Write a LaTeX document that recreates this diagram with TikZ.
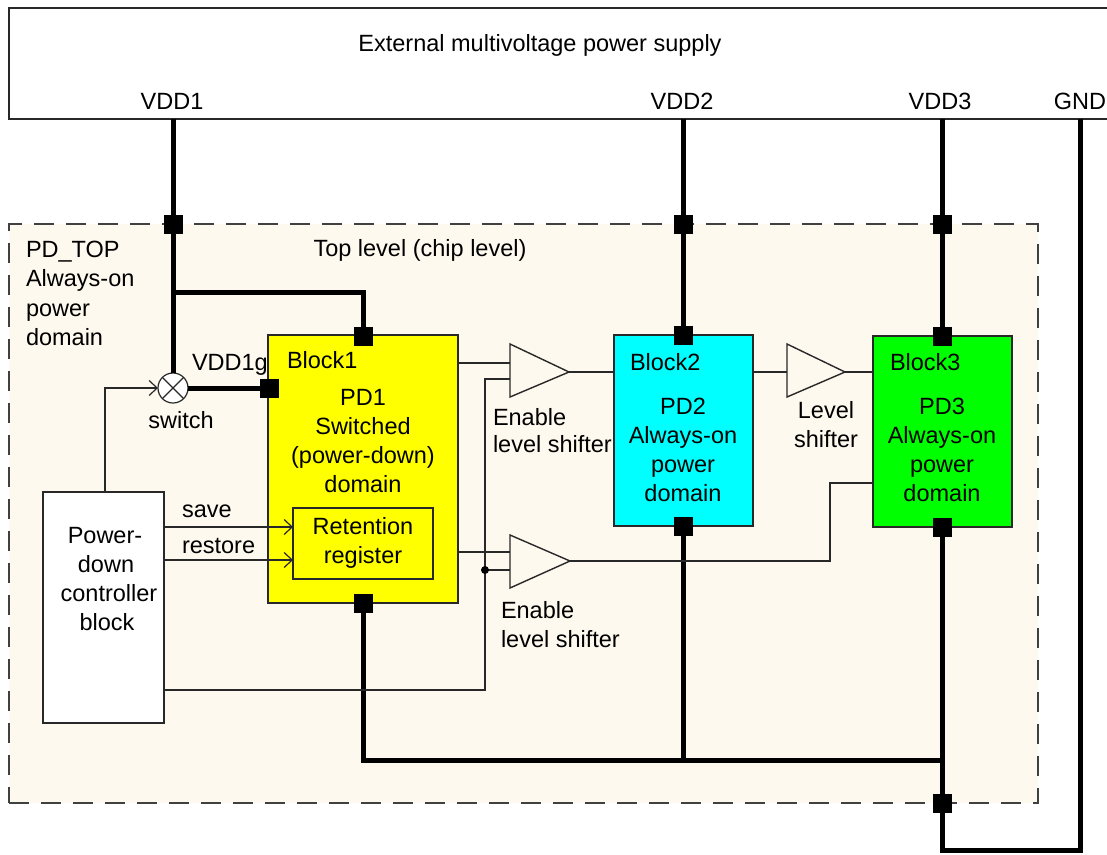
\documentclass[tikz,border=0pt]{standalone}
\usepackage{fontspec}
\setmainfont{Liberation Sans}
\usetikzlibrary{arrows.meta}
\definecolor{cream}{RGB}{254,249,238}
\definecolor{bord}{RGB}{40,40,40}
\definecolor{pdyellow}{RGB}{255,255,0}
\definecolor{pdcyan}{RGB}{0,255,255}
\definecolor{pdgreen}{RGB}{0,255,0}
\begin{document}
\begin{tikzpicture}[x=1pt,y=-1pt,
  every node/.style={inner sep=0pt, outer sep=0pt},
  txt/.style={anchor=base, font=\fontsize{23.5}{29}\selectfont, text=black},
  txtl/.style={txt, anchor=base west},
  blk/.style={draw=bord, line width=1.4pt, rectangle},
  pwr/.style={line width=5pt},
  sig/.style={line width=1.4pt, draw=bord},
  pin/.style={rectangle, fill=black, minimum size=19pt},
  tip/.style={-{Straight Barb[length=8pt,width=15pt,line width=1.2pt]}}
]
\useasboundingbox (0,0) rectangle (1107,854);
\fill[white] (0,0) rectangle (1107,854);

% top level dashed region
\node[draw=black!75, fill=cream, line width=2.5pt, dash pattern=on 20pt off 12pt,
      minimum width=1029pt, minimum height=579pt] (top) at (523.5,513.5) {};
% external supply box
\node[draw=bord, line width=1.4pt, minimum width=1130pt, minimum height=111pt,
      anchor=north west] (ext) at (9,8) {};

% blocks
\node[blk, fill=pdyellow, minimum width=190pt, minimum height=268pt] (b1) at (363,469) {};
\node[blk, fill=pdcyan, minimum width=139pt, minimum height=191pt] (b2) at (683.5,430.5) {};
\node[blk, fill=pdgreen, minimum width=139pt, minimum height=191pt] (b3) at (942.5,431.5) {};
\node[blk, fill=pdyellow, minimum width=140pt, minimum height=71pt] (reg) at (363,543.5) {};
\node[blk, fill=white, minimum width=121pt, minimum height=231pt] (ctrl) at (103.5,607.5) {};

% level shifters
\draw[sig, fill=cream] (510,344) coordinate (t1top) -- (569,372) coordinate (t1o) -- (510,397) coordinate (t1bot) -- cycle;
\draw[sig, fill=cream] (510,535) coordinate (t2top) -- (570,561) coordinate (t2o) -- (510,588) coordinate (t2bot) -- cycle;
\draw[sig, fill=cream] (787,344) coordinate (t3top) -- (845,372) coordinate (t3o) -- (787,397) coordinate (t3bot) -- cycle;

% switch
\node[circle, draw=bord, fill=white, line width=1.2pt, minimum size=30pt] (sw) at (173,388) {};
\draw[sig, line width=1.2pt] (sw.45) -- (sw.225) (sw.135) -- (sw.315);

% coordinates
\coordinate (br) at (173,292);
\coordinate (bus) at (942,760);
\coordinate (gnd) at (1080,119);
\coordinate (gndlow) at (942,850);
\coordinate (en1) at (485,379);
\coordinate (en2) at (485,570);
\coordinate (ctrlout) at (164,690);

% power lines
\draw[pwr] (sw.north |- ext.south) -- (sw.north);
\draw[pwr] (br) -| (363,335);
\draw[pwr] (sw.east) -- (b1.west |- sw);
\draw[pwr] (b2.north |- ext.south) -- (b2.north);
\draw[pwr] (942,119) -- (942,336);
\draw[pwr] (363,603) |- (bus);
\draw[pwr] (683,526) -- (683,760);
\draw[pwr] (942,527) -- (gndlow) -| (gnd);

% signal lines
\draw[sig] (458,363) -- (510,363);
\draw[sig] (ctrlout) -| (en1) -- (510,379);
\draw[sig] (en2) -- (510,570);
\draw[sig] (458,552) -- (510,552);
\draw[sig] (t1o) -- (b2.west |- t1o);
\draw[sig] (b2.east |- t3o) -- (787,372);
\draw[sig] (t3o) -- (b3.west |- t3o);
\draw[sig] (t2o) -- (830,561) |- (873,483);
\draw[sig, tip] (105,492) |- (sw.west);
\draw[sig, tip] (164,527) -- (reg.west |- 0,527);
\draw[sig, tip] (164,560) -- (reg.west |- 0,560);
\node[circle, fill=black, minimum size=8pt] (dot) at (en2) {};

% pins
\node[pin] (p1a) at (173,224) {};
\node[pin] (p1b) at (363,336) {};
\node[pin] (p1g) at (269,388) {};
\node[pin] (p1c) at (363,603) {};
\node[pin] (p2a) at (683,224) {};
\node[pin] (p2b) at (683,335) {};
\node[pin] (p2c) at (683,526) {};
\node[pin] (p3a) at (942,224) {};
\node[pin] (p3b) at (942,336) {};
\node[pin] (p3c) at (942,527) {};
\node[pin] (p3d) at (942,803) {};

% texts
\node[txt] (tExt) at (540,51) {External multivoltage power supply};
\node[txt] (tV1) at (172,109) {VDD1};
\node[txt] (tV2) at (682,109) {VDD2};
\node[txt] (tV3) at (940,109) {VDD3};
\node[txt] (tG) at (1080,109) {GND};

\node[txtl] (tPT) at (26,257) {PD\_TOP};
\node[txtl] (tPT2) at (26,286.5) {Always-on};
\node[txtl] (tPT3) at (26,316) {power};
\node[txtl] (tPT4) at (26,345.5) {domain};
\node[txt] (tTop) at (420,256) {Top level (chip level)};

\node[txtl] (tVg) at (192,370) {VDD1g};
\node[txt] (tSw) at (181,428) {switch};

\node[txtl] (tB1) at (287,368) {Block1};
\node[txt] at (363,405) {PD1};
\node[txt] at (363,434) {Switched};
\node[txt] at (363,463) {(power-down)};
\node[txt] at (363,492) {domain};
\node[txt] at (363,534) {Retention};
\node[txt] at (363,563) {register};

\node[txtl] (tB2) at (630,370) {Block2};
\node[txt] at (683,414) {PD2};
\node[txt] at (683,443) {Always-on};
\node[txt] at (683,472) {power};
\node[txt] at (683,501) {domain};

\node[txtl] (tB3) at (890,370) {Block3};
\node[txt] at (942,414) {PD3};
\node[txt] at (942,443) {Always-on};
\node[txt] at (942,472) {power};
\node[txt] at (942,501) {domain};

\node[txtl] at (493,425) {Enable};
\node[txtl] at (493,452) {level shifter};
\node[txtl] at (501,618) {Enable};
\node[txtl] at (501,647) {level shifter};
\node[txt] at (826,418) {Level};
\node[txt] at (826,447) {shifter};

\node[txtl] at (182,517) {save};
\node[txtl] at (182,553) {restore};

\node[txt] at (105,543) {Power-};
\node[txt] at (106,572) {down};
\node[txt] at (109,601) {controller};
\node[txt] at (107,630) {block};
\end{tikzpicture}
\end{document}
